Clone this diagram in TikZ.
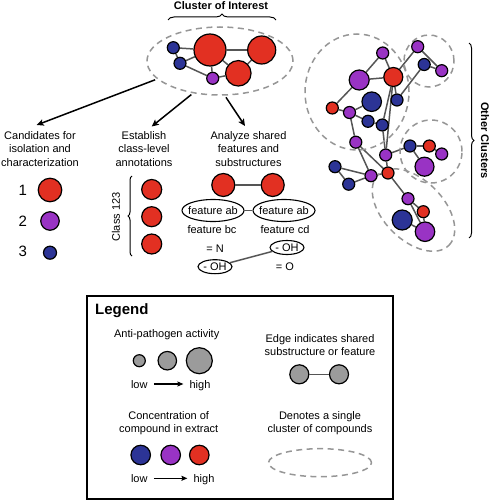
\documentclass[tikz,border=0pt]{standalone}
\usepackage{fontspec}
\setmainfont{Liberation Sans}
\usetikzlibrary{shapes.geometric,arrows.meta,decorations.pathreplacing,calc,backgrounds}
\definecolor{cred}{RGB}{226,48,34}
\definecolor{cpur}{RGB}{153,51,196}
\definecolor{cblu}{RGB}{44,52,150}
\definecolor{cgray}{RGB}{155,155,155}
\definecolor{cdash}{RGB}{150,150,150}
\definecolor{cedge}{RGB}{85,85,85}
\begin{document}
\begin{tikzpicture}[x=1pt,y=-1pt,
  cn/.style={circle,draw=black,line width=1.2pt,inner sep=0pt,minimum size=#1},
  nr/.style={cn=#1,fill=cred},
  np/.style={cn=#1,fill=cpur},
  nb/.style={cn=#1,fill=cblu},
  ng/.style={cn=#1,fill=cgray},
  ed/.style={draw=cedge,line width=1.5pt},
  cl/.style={ellipse,draw=cdash,dash pattern=on 6pt off 4.5pt,line width=1.5pt,inner sep=0pt},
  txt/.style={font=\fontsize{11}{13.6}\selectfont,align=center,inner sep=0pt},
  num/.style={font=\fontsize{15}{18}\selectfont,inner sep=0pt},
  bld/.style={font=\bfseries\fontsize{11}{13}\selectfont,inner sep=0pt},
  brc/.style={decorate,decoration={brace,amplitude=#1},line width=1pt},
  arr/.style={line width=1.5pt,-{Stealth[length=7pt,width=6.5pt,inset=1.5pt]},shorten <=2pt},
  larr/.style={line width=1.2pt,-{Stealth[length=6pt,width=5pt,inset=1pt]}},
  fel/.style={ellipse,draw=black,line width=1.1pt,inner xsep=-5pt,inner ysep=0pt,font=\fontsize{11}{13}\selectfont}
]
\useasboundingbox (0,0) rectangle (491,500);

% ---------- Cluster of interest ----------
\node[bld] (title) at (221,6) {Cluster of Interest};
\draw[brc=6pt] (168,20) -- (276,20);
\node[cl,minimum width=146pt,minimum height=68pt] (coi) at (220,61) {};
\node[nb=12pt] (c1) at (173.3,47.7) {};
\node[nb=12pt] (c2) at (180,63.3) {};
\node[nr=32pt] (c3) at (210,50) {};
\node[nr=28pt] (c4) at (261.7,50) {};
\node[nr=25.5pt] (c5) at (238.3,73.3) {};
\node[np=12pt] (c6) at (212.7,78.3) {};
\begin{scope}[on background layer]
\draw[ed] (c1) -- (c3);
\draw[ed] (c1) -- (c2);
\draw[ed] (c2) -- (c3);
\draw[ed] (c2) -- (c6);
\draw[ed] (c3) -- (c6);
\draw[ed] (c6) -- (c5);
\draw[ed] (c3) -- (c5);
\draw[ed] (c3) -- (c4);
\draw[ed] (c5) -- (c4);
\end{scope}

% ---------- Three columns ----------
\node[txt] (t1) at (40,149) {Candidates for\\isolation and\\characterization};
\node[txt] (t2) at (144,149) {Establish\\class-level\\annotations};
\node[txt] (t3) at (248.5,149) {Analyze shared\\features and\\substructures};
\coordinate (a1) at (36.7,125);
\coordinate (a2) at (151.7,126.5);
\coordinate (a3) at (245,126);
\draw[arr] (coi.196) -- (a1);
\draw[arr] (coi.230) -- (a2);
\draw[arr] (coi.278) -- (a3);

% candidates
\node[num] (n1) at (22.7,190) {1};
\node[num] (n2) at (22.7,221) {2};
\node[num] (n3) at (22.7,251.5) {3};
\node[nr=23.5pt] (m1) at (50,190) {};
\node[np=18.5pt] (m2) at (50,221) {};
\node[nb=13pt] (m3) at (50,252.7) {};

% class
\node[txt,rotate=90] (cls) at (116,217) {Class 123};
\draw[brc=4pt] (132,256) -- (132,176);
\node[nr=20pt] (k1) at (151.7,189.5) {};
\node[nr=20pt] (k2) at (151.7,216.7) {};
\node[nr=20pt] (k3) at (151.7,244) {};

% analyze
\node[nr=23pt] (s1) at (223.3,185) {};
\node[nr=23pt] (s2) at (272.7,185) {};
\draw[ed] (s1) -- (s2);
\node[fel,minimum width=62pt,minimum height=22pt] (f1) at (213,210.5) {feature ab};
\node[fel,minimum width=62pt,minimum height=22pt] (f2) at (284,210.5) {feature ab};
\draw[ed] (f1) -- (f2);
\node[txt] (fb) at (212,229.3) {feature bc};
\node[txt] (fc) at (285,229.3) {feature cd};
\node[txt] (eqn) at (215,248.3) {= N};
\node[txt] (eqo) at (285,266.7) {= O};
\node[fel,inner xsep=0pt,minimum width=34pt,minimum height=14pt] (oh1) at (215,266.7) {- OH};
\node[fel,inner xsep=0pt,minimum width=34pt,minimum height=14pt] (oh2) at (287,247.5) {- OH};
\draw[ed] (oh1) -- (oh2);

% ---------- Other clusters ----------
\node[cl,minimum width=104pt,minimum height=116pt] (q1) at (357,92) {};
\node[cl,minimum width=50pt,minimum height=52pt] (q2) at (429,61) {};
\node[cl,minimum width=62pt,minimum height=63pt] (q3) at (431,151.5) {};
\node[cl,minimum width=100pt,minimum height=60pt,rotate=-45] (q4) at (413.5,210) {};

\node[np=12pt] (o1) at (382.7,53) {};
\node[np=12pt] (o2) at (417.7,46.7) {};
\node[nb=12pt] (o3) at (424.2,64.5) {};
\node[np=12pt] (o4) at (441.7,70.7) {};
\node[np=20pt] (o5) at (359.2,80) {};
\node[nr=19pt] (o6) at (393.3,77) {};
\node[nb=19.5pt] (o7) at (371.7,101.7) {};
\node[nb=12pt] (o8) at (397,100) {};
\node[nr=12pt] (o9) at (332.3,108) {};
\node[np=12pt] (o10) at (349.5,112.5) {};
\node[nb=12pt] (o11) at (368,121.3) {};
\node[nb=12pt] (o12) at (382.3,125) {};
\node[np=12pt] (o13) at (355.8,142.2) {};
\node[np=12pt] (o14) at (385.7,155) {};
\node[nb=12pt] (o15) at (410,146) {};
\node[nr=12pt] (o16) at (429.3,146) {};
\node[np=12pt] (o17) at (441.7,154) {};
\node[np=19pt] (o18) at (424.5,166.7) {};
\node[nb=12pt] (o19) at (335,166.7) {};
\node[nb=12pt] (o20) at (348.7,184.2) {};
\node[np=12pt] (o21) at (371,175.7) {};
\node[nr=12pt] (o22) at (388,173) {};
\node[np=12pt] (o23) at (408,198.7) {};
\node[nr=12pt] (o24) at (423.3,211.7) {};
\node[nb=20pt] (o25) at (402.2,220) {};
\node[np=19.5pt] (o26) at (425,231.7) {};
\begin{scope}[on background layer]
\draw[ed] (o1) -- (o6);
\draw[ed] (o1) -- (o5);
\draw[ed] (o5) -- (o6);
\draw[ed] (o5) -- (o9);
\draw[ed] (o9) -- (o10);
\draw[ed] (o10) -- (o7);
\draw[ed] (o6) -- (o2);
\draw[ed] (o2) -- (o4);
\draw[ed] (o3) -- (o4);
\draw[ed] (o6) -- (o8);
\draw[ed] (o8) -- (o3);
\draw[ed] (o6) -- (o12);
\draw[ed] (o6) -- (o14);
\draw[ed] (o10) -- (o11);
\draw[ed] (o11) -- (o12);
\draw[ed] (o10) -- (o13);
\draw[ed] (o12) -- (o14);
\draw[ed] (o13) -- (o22);
\draw[ed] (o13) -- (o21);
\draw[ed] (o14) -- (o15);
\draw[ed] (o15) -- (o16);
\draw[ed] (o16) -- (o17);
\draw[ed] (o15) -- (o18);
\draw[ed] (o14) -- (o22);
\draw[ed] (o19) -- (o21);
\draw[ed] (o19) -- (o20);
\draw[ed] (o20) -- (o21);
\draw[ed] (o21) -- (o22);
\draw[ed] (o22) -- (o23);
\draw[ed] (o23) -- (o24);
\draw[ed] (o23) -- (o26);
\draw[ed] (o24) -- (o26);
\draw[ed] (o25) -- (o26);
\end{scope}
\draw[brc=5pt] (469,43) -- (469,238);
\node[bld,rotate=-90] (oth) at (485,140.5) {Other Clusters};

% ---------- Legend ----------
\node[draw=black,line width=1.6pt,minimum width=306pt,minimum height=203pt,inner sep=0pt] (leg) at (240,397.5) {};
\node[anchor=west,inner sep=0pt,font=\bfseries\fontsize{15}{18}\selectfont] (legt) at (95,310.5) {Legend};

\node[txt] (la) at (166.7,335) {Anti-pathogen activity};
\node[ng=12pt] (g1) at (139.3,360.7) {};
\node[ng=18.5pt] (g2) at (167.3,360.7) {};
\node[ng=26pt] (g3) at (199.3,360.7) {};
\node[txt,anchor=base] (lo1) at (139.3,388) {low};
\node[txt,anchor=base] (hi1) at (200,388) {high};
\draw[larr] ($(lo1.base east)+(6,-4)$) -- ($(hi1.base west)+(-6,-4)$);

\node[txt] (le) at (320,345) {Edge indicates shared\\substructure or feature};
\node[ng=19pt] (e1) at (299.3,374.3) {};
\node[ng=19pt] (e2) at (339,374.3) {};
\draw[line width=1.3pt,draw=cedge] (e1) -- (e2);

\node[txt] (lc) at (168.7,423) {Concentration of\\compound in extract};
\node[nb=19.5pt] (h1) at (140.7,455) {};
\node[np=19.5pt] (h2) at (170.7,455) {};
\node[nr=19.5pt] (h3) at (199.3,455) {};
\node[txt,anchor=base] (lo2) at (139.3,482.3) {low};
\node[txt,anchor=base] (hi2) at (204,482.3) {high};
\draw[larr] ($(lo2.base east)+(6,-4)$) -- ($(hi2.base west)+(-6,-4)$);

\node[txt] (ld) at (320,423.3) {Denotes a single\\cluster of compounds};
\node[cl,minimum width=103pt,minimum height=28pt] (lel) at (320,462.7) {};
\end{tikzpicture}
\end{document}
